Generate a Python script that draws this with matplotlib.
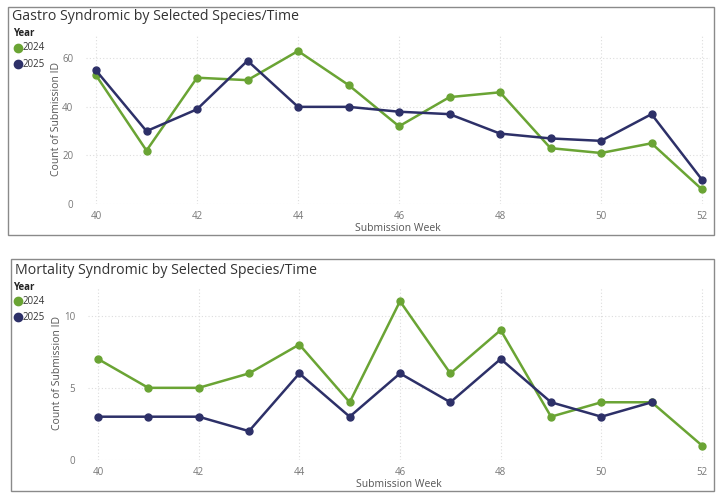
import matplotlib
matplotlib.use("Agg")
import matplotlib.pyplot as plt
from matplotlib.patches import Rectangle

weeks = [40, 41, 42, 43, 44, 45, 46, 47, 48, 49, 50, 51, 52]
gastro_2024 = [53, 22, 52, 51, 63, 49, 32, 44, 46, 23, 21, 25, 6]
gastro_2025 = [55, 30, 39, 59, 40, 40, 38, 37, 29, 27, 26, 37, 10]
mort_weeks_2024 = [40, 41, 42, 43, 44, 45, 46, 47, 48, 49, 50, 51, 52]
mort_2024 = [7, 5, 5, 6, 8, 4, 11, 6, 9, 3, 4, 4, 1]
mort_weeks_2025 = [40, 41, 42, 43, 44, 45, 46, 47, 48, 49, 50, 51]
mort_2025 = [3, 3, 3, 2, 6, 3, 6, 4, 7, 4, 3, 4]
titles = ["Gastro Syndromic by Selected Species/Time",
          "Mortality Syndromic by Selected Species/Time"]
gastro_ticks = [0, 20, 40, 60]
mort_ticks = [0, 5, 10]
x_ticks = [40, 42, 44, 46, 48, 50, 52]
years = ["2024", "2025"]

GREEN = "#6AA434"
NAVY = "#2D3068"
plt.rcParams['font.family'] = ['Open Sans', 'DejaVu Sans']

W, H = 721, 498
fig = plt.figure(figsize=(W / 100, H / 100), dpi=100)

def box(x0, y0, x1, y1):
    fig.patches.append(Rectangle((x0 / W, 1 - y1 / H), (x1 - x0) / W, (y1 - y0) / H,
                                 transform=fig.transFigure, fill=False,
                                 edgecolor="#8a8a8a", linewidth=1.0))

def axes_px(left, top, right, bottom):
    return fig.add_axes([left / W, 1 - bottom / H, (right - left) / W, (bottom - top) / H])

def panel(ax, s1x, s1, s2x, s2, ylim, yticks, title, tx, ty, leg_y, ylab_x):
    ax.plot(s1x, s1, color=GREEN, lw=1.8, marker="o", ms=5, clip_on=False, zorder=3)
    ax.plot(s2x, s2, color=NAVY, lw=1.8, marker="o", ms=5, clip_on=False, zorder=3)
    ax.set_xlim(39.8, 52.15)
    ax.set_ylim(*ylim)
    ax.set_yticks(yticks)
    ax.set_xticks(x_ticks)
    for s in ax.spines.values():
        s.set_visible(False)
    ax.tick_params(length=0, labelsize=7, labelcolor="#777777")
    ax.tick_params(axis="y", pad=9)
    ax.tick_params(axis="x", pad=5)
    ax.grid(True, color="#dddddd", linestyle=(0, (1, 2)), linewidth=0.8)
    ax.set_axisbelow(True)
    ax.set_ylabel("Count of Submission ID", fontsize=7.5, color="#555555")
    ax.yaxis.set_label_coords(ylab_x, 0.5)
    ax.set_xlabel("Submission Week", fontsize=7.5, color="#555555", labelpad=1)
    fig.text(tx / W, 1 - ty / H, title, fontsize=10.2, color="#333333", va="center", ha="left")
    fig.text(13 / W, 1 - leg_y / H, "Year", fontsize=7, fontweight="bold", color="#222222",
             va="center", ha="left")
    for i, (yr, c) in enumerate(zip(years, [GREEN, NAVY])):
        yy = leg_y + 14 + i * 16
        fig.lines.append(plt.Line2D([17.5 / W], [1 - yy / H], marker="o", ms=6, color=c,
                                    transform=fig.transFigure))
        fig.text(22.5 / W, 1 - yy / H, yr, fontsize=7, color="#333333", va="center", ha="left")

box(8, 7, 714, 235)
box(11, 259, 714, 491)

ax1 = axes_px(85.9, 34, 709.6, 204)
panel(ax1, weeks, gastro_2024, weeks, gastro_2025, (0, 70), gastro_ticks,
      titles[0], 12, 17, 34, (62 - 85.9) / 623.7)

ax2 = axes_px(87.9, 286.8, 709.6, 460)
panel(ax2, mort_weeks_2024, mort_2024, mort_weeks_2025, mort_2025, (0, 12), mort_ticks,
      titles[1], 15, 270, 287, (63 - 87.9) / 621.7)

fig.savefig("out.png", dpi=100)
